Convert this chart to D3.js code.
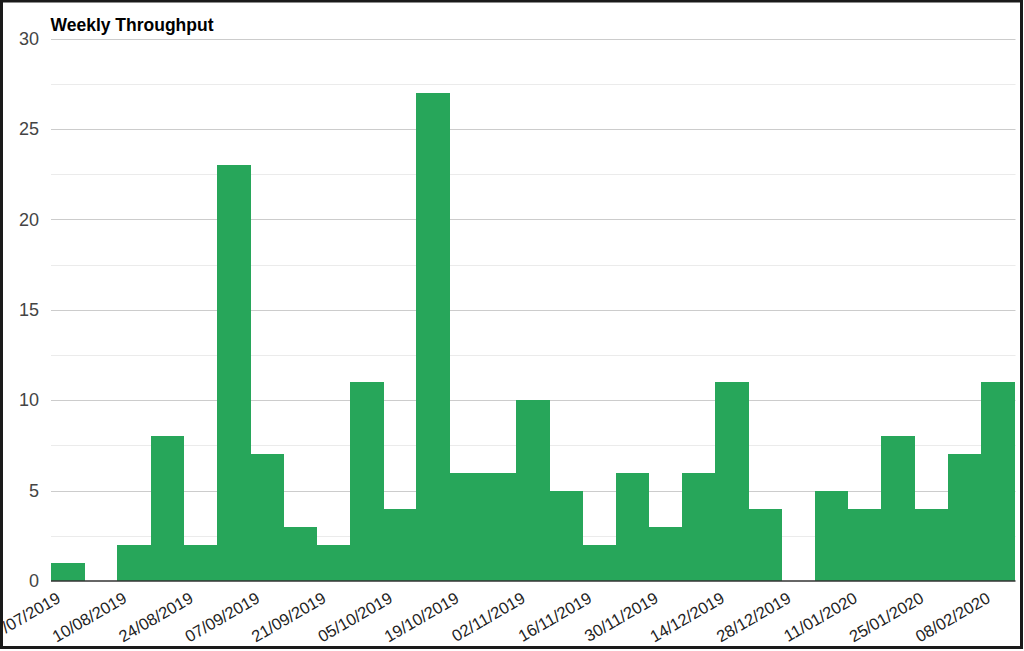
<!DOCTYPE html>
<html>
<head>
<meta charset="utf-8">
<script src="https://cdn.jsdelivr.net/npm/d3@7"></script>
<style>
  html, body { margin: 0; padding: 0; background: #fff; }
  svg { display: block; font-family: "Liberation Sans", Arial, sans-serif; }
</style>
</head>
<body>
<svg id="chart" width="1024" height="651"></svg>
<script>
const weeks = [
  "27/07/2019","03/08/2019","10/08/2019","17/08/2019","24/08/2019","31/08/2019",
  "07/09/2019","14/09/2019","21/09/2019","28/09/2019","05/10/2019","12/10/2019",
  "19/10/2019","26/10/2019","02/11/2019","09/11/2019","16/11/2019","23/11/2019",
  "30/11/2019","07/12/2019","14/12/2019","21/12/2019","28/12/2019","04/01/2020",
  "11/01/2020","18/01/2020","25/01/2020","01/02/2020","08/02/2020"
];
const throughput = [1,0,2,8,2,23,7,3,2,11,4,27,6,6,10,5,2,6,3,6,11,4,0,5,4,8,4,7,11];
const yTicks = [0,5,10,15,20,25,30];
const yMinorTicks = [2.5,7.5,12.5,17.5,22.5,27.5];
const title = "Weekly Throughput";

const svg = d3.select("#chart");
const plotLeft = 51, plotRight = 1014, plotTop = 38.5, plotBottom = 581;

const x = d3.scaleBand().domain(weeks).range([plotLeft, plotRight]).padding(0);
const y = d3.scaleLinear().domain([0, 30]).range([plotBottom, plotTop]);

// minor gridlines
svg.append("g").selectAll("line").data(yMinorTicks).join("line")
  .attr("x1", plotLeft).attr("x2", plotRight + 1.5)
  .attr("y1", d => Math.round(y(d)) + 0.5).attr("y2", d => Math.round(y(d)) + 0.5)
  .attr("stroke", "#ebebeb").attr("stroke-width", 1);

// major gridlines
svg.append("g").selectAll("line").data(yTicks.filter(d => d > 0)).join("line")
  .attr("x1", plotLeft).attr("x2", plotRight + 1.5)
  .attr("y1", d => Math.round(y(d)) + 0.5).attr("y2", d => Math.round(y(d)) + 0.5)
  .attr("stroke", "#cccccc").attr("stroke-width", 1);

// bars
svg.append("g").attr("shape-rendering", "crispEdges")
  .selectAll("rect").data(throughput).join("rect")
  .attr("x", (d, i) => x(weeks[i]))
  .attr("width", x.bandwidth() + 0.5)
  .attr("y", d => y(d))
  .attr("height", d => y(0) - y(d))
  .attr("fill", "#27a65a");

// baseline
svg.append("line")
  .attr("x1", plotLeft).attr("x2", plotRight + 1.5)
  .attr("y1", y(0)).attr("y2", y(0))
  .attr("stroke", "#333").attr("stroke-width", 1.5);

// y axis labels
const yAxis = d3.axisLeft(y).tickValues(yTicks).tickSize(0).tickPadding(0);
const yg = svg.append("g").attr("transform", `translate(${39},0)`).call(yAxis);
yg.select(".domain").remove();
yg.selectAll("text")
  .attr("font-size", 18).attr("fill", "#444")
  .attr("font-family", "Liberation Sans, Arial, sans-serif");

// x axis labels (every other week), slanted
const xAxis = d3.axisBottom(x)
  .tickValues(weeks.filter((d, i) => i % 2 === 0))
  .tickSize(0).tickPadding(0);
const xg = svg.append("g").attr("transform", `translate(0,${y(0)})`).call(xAxis);
xg.select(".domain").remove();
xg.selectAll("text")
  .attr("font-size", 16.5).attr("fill", "#222")
  .attr("font-family", "Liberation Sans, Arial, sans-serif")
  .attr("text-anchor", "end")
  .attr("dy", null)
  .attr("transform", "translate(-6,20.5) rotate(-30)")
  .attr("y", 0).attr("x", 0);

// title
svg.append("text")
  .attr("x", 50.5).attr("y", 30.5)
  .attr("font-size", 17.5).attr("font-weight", "bold").attr("fill", "#000")
  .text(title);

// outer frame
svg.append("rect")
  .attr("x", 1.5).attr("y", 1).attr("width", 1020).attr("height", 646.5)
  .attr("fill", "none").attr("stroke", "#1a1a1a").attr("stroke-width", 3);
</script>
</body>
</html>
